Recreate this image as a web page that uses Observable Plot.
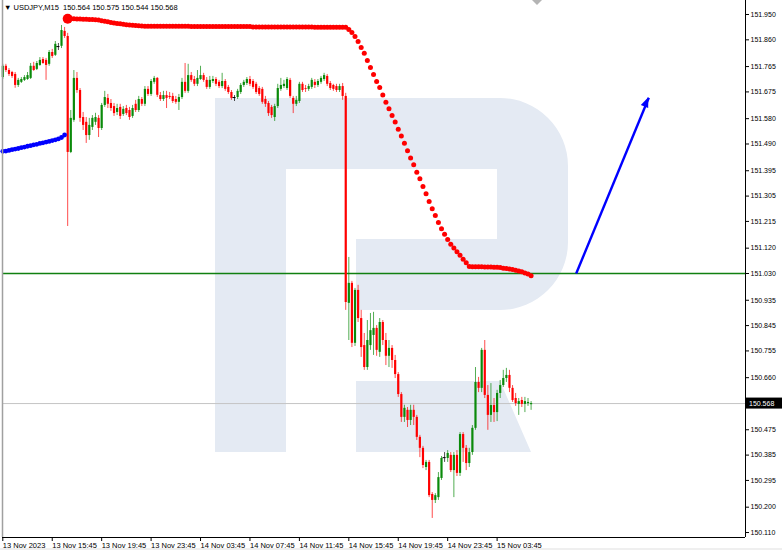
<!DOCTYPE html>
<html>
<head>
<meta charset="utf-8">
<script src="https://cdn.jsdelivr.net/npm/d3@7"></script>
<script src="https://cdn.jsdelivr.net/npm/@observablehq/plot@0.6"></script>
<style>
html,body{margin:0;padding:0;background:#fff;}
#wrap{position:relative;width:782px;height:550px;overflow:hidden;font-family:"Liberation Sans",Arial,sans-serif;background:linear-gradient(#fff 548px,#efefef 548px);}
#bg{position:absolute;left:0;top:0;}
#chart{position:absolute;left:0;top:0;}
#title{position:absolute;left:4px;top:3px;font-size:7.5px;color:#000;white-space:pre;line-height:9px;}
</style>
</head>
<body>
<div id="wrap">
<svg id="bg" width="782" height="550">
  <path d="M215,98 H500 A68,68 0 0 1 568,166 V242 A68,68 0 0 1 500,310 H356 V239 H497 V169 H286 V452 H215 Z M356,381 H500 L531,452 H356 Z" fill="#e4eaf3"/>
  <polygon points="532,0 542,0 537,5" fill="#b4b4b4"/>
</svg>
<div id="chart"></div>
<div id="title"></div>
</div>
<script>
const symbol = "USDJPY,M15";
// bar 0 = 13 Nov 11:45, one bar per 15 minutes
const tickBars = [0, 16, 32, 48, 64, 80, 96, 112, 128, 144, 160];
const timeLabels = ["13 Nov 2023", "13 Nov 15:45", "13 Nov 19:45", "13 Nov 23:45", "14 Nov 03:45", "14 Nov 07:45", "14 Nov 11:45", "14 Nov 15:45", "14 Nov 19:45", "14 Nov 23:45", "15 Nov 03:45"];
const priceTicks = [151.950, 151.860, 151.765, 151.675, 151.580, 151.490, 151.395, 151.305, 151.215, 151.120, 151.030, 150.935, 150.845, 150.755, 150.660, 150.475, 150.385, 150.295, 150.200, 150.110];
const currentPrice = 150.568;
const levelPrice = 151.030;
const arrowFrom = {bar: 185.6, price: 151.030};
const arrowTo = {bar: 209.1, price: 151.654};

// candles: [open, high, low, close]
const candles = [
[151.726,151.773,151.719,151.766],[151.766,151.773,151.744,151.751],[151.751,151.758,151.730,151.737],[151.744,151.748,151.723,151.730],
[151.737,151.744,151.688,151.698],[151.698,151.723,151.691,151.716],[151.709,151.726,151.705,151.719],[151.716,151.733,151.712,151.726],
[151.719,151.744,151.716,151.733],[151.723,151.776,151.719,151.766],[151.766,151.780,151.748,151.751],[151.755,151.783,151.751,151.776],
[151.769,151.797,151.766,151.787],[151.790,151.797,151.773,151.776],[151.787,151.794,151.716,151.769],[151.773,151.822,151.766,151.815],
[151.815,151.826,151.794,151.801],[151.805,151.854,151.801,151.844],[151.836,151.847,151.822,151.836],[151.837,151.911,151.829,151.893],
[151.890,151.904,151.865,151.872],[151.872,151.883,151.197,151.460],[151.460,151.609,151.456,151.581],[151.574,151.751,151.567,151.723],
[151.723,151.744,151.670,151.680],[151.680,151.687,151.567,151.581],[151.584,151.602,151.538,151.556],[151.567,151.584,151.492,151.520],
[151.520,151.581,151.503,151.556],[151.549,151.591,151.538,151.581],[151.567,151.599,151.556,151.584],[151.581,151.591,151.513,151.545],
[151.545,151.634,151.538,151.627],[151.627,151.677,151.620,151.655],[151.652,151.666,151.616,151.631],[151.634,151.648,151.606,151.616],
[151.623,151.634,151.588,151.598],[151.602,151.631,151.591,151.616],[151.620,151.631,151.577,151.588],[151.595,151.623,151.588,151.613],
[151.616,151.627,151.591,151.598],[151.609,151.620,151.574,151.584],[151.588,151.627,151.581,151.616],[151.631,151.645,151.602,151.609],
[151.609,151.659,151.602,151.648],[151.648,151.655,151.623,151.631],[151.631,151.694,151.623,151.684],[151.684,151.694,151.659,151.666],
[151.666,151.719,151.659,151.712],[151.709,151.730,151.702,151.723],[151.723,151.726,151.655,151.663],[151.662,151.673,151.641,151.648],
[151.648,151.677,151.641,151.662],[151.662,151.677,151.616,151.652],[151.659,151.673,151.648,151.655],[151.659,151.670,151.634,151.641],
[151.648,151.659,151.631,151.638],[151.638,151.666,151.609,151.655],[151.655,151.723,151.648,151.709],[151.709,151.776,151.670,151.677],
[151.677,151.773,151.670,151.733],[151.733,151.744,151.709,151.716],[151.719,151.730,151.694,151.702],[151.702,151.751,151.694,151.723],
[151.719,151.766,151.716,151.733],[151.733,151.741,151.709,151.716],[151.716,151.726,151.684,151.691],[151.691,151.730,151.684,151.716],
[151.712,151.730,151.705,151.719],[151.719,151.726,151.694,151.702],[151.709,151.716,151.687,151.694],[151.694,151.741,151.687,151.712],
[151.712,151.719,151.677,151.684],[151.691,151.698,151.666,151.673],[151.673,151.680,151.645,151.652],[151.655,151.662,151.641,151.655],
[151.655,151.684,151.648,151.677],[151.673,151.705,151.666,151.698],[151.698,151.716,151.691,151.709],[151.705,151.726,151.698,151.719],
[151.719,151.730,151.694,151.702],[151.712,151.719,151.684,151.691],[151.702,151.709,151.666,151.673],[151.687,151.694,151.659,151.666],
[151.684,151.691,151.631,151.638],[151.648,151.659,151.620,151.631],[151.634,151.641,151.588,151.598],[151.620,151.627,151.581,151.591],
[151.584,151.631,151.570,151.623],[151.623,151.702,151.616,151.687],[151.684,151.723,151.677,151.698],[151.694,151.716,151.687,151.702],
[151.687,151.726,151.680,151.719],[151.716,151.723,151.652,151.659],[151.652,151.659,151.598,151.631],[151.631,151.659,151.623,151.645],
[151.641,151.709,151.634,151.702],[151.702,151.709,151.673,151.680],[151.687,151.698,151.673,151.684],[151.684,151.702,151.677,151.694],
[151.691,151.723,151.684,151.716],[151.709,151.719,151.687,151.698],[151.698,151.719,151.691,151.712],[151.709,151.730,151.702,151.723],
[151.719,151.741,151.712,151.733],[151.730,151.737,151.694,151.702],[151.705,151.712,151.680,151.687],[151.698,151.702,151.677,151.684],
[151.694,151.702,151.673,151.680],[151.680,151.702,151.673,151.694],[151.694,151.705,151.645,151.659],[151.659,151.670,150.899,150.927],
[150.924,151.087,150.792,150.995],[150.995,151.002,150.767,150.782],[150.782,150.977,150.771,150.970],[150.970,150.988,150.856,150.870],
[150.870,150.899,150.732,150.767],[150.774,150.817,150.686,150.696],[150.696,150.863,150.686,150.792],[150.774,150.888,150.757,150.827],
[150.810,150.892,150.739,150.835],[150.835,150.845,150.736,150.757],[150.750,150.870,150.732,150.856],[150.856,150.863,150.774,150.792],
[150.792,150.817,150.703,150.736],[150.736,150.792,150.696,150.764],[150.764,150.774,150.693,150.721],[150.721,150.739,150.657,150.671],
[150.671,150.678,150.590,150.600],[150.600,150.607,150.501,150.519],[150.519,150.562,150.501,150.551],[150.544,150.554,150.483,150.508],
[150.508,150.562,150.490,150.544],[150.544,150.562,150.490,150.519],[150.519,150.526,150.437,150.448],[150.448,150.455,150.376,150.409],
[150.409,150.416,150.337,150.348],[150.341,150.366,150.330,150.359],[150.359,150.366,150.234,150.241],[150.245,150.252,150.160,150.224],
[150.224,150.248,150.213,150.241],[150.234,150.323,150.224,150.305],[150.302,150.380,150.295,150.373],[150.376,150.394,150.359,150.376],
[150.373,150.401,150.359,150.391],[150.384,150.394,150.323,150.330],[150.330,150.394,150.234,150.384],[150.384,150.401,150.309,150.320],
[150.320,150.465,150.309,150.458],[150.458,150.465,150.359,150.409],[150.409,150.419,150.330,150.355],[150.355,150.409,150.341,150.394],
[150.394,150.490,150.384,150.480],[150.480,150.696,150.473,150.643],[150.643,150.661,150.607,150.622],[150.622,150.764,150.607,150.757],
[150.757,150.792,150.586,150.597],[150.597,150.632,150.473,150.526],[150.526,150.639,150.501,150.561],[150.561,150.586,150.501,150.536],
[150.536,150.615,150.504,150.604],[150.604,150.650,150.586,150.632],[150.632,150.686,150.625,150.657],[150.657,150.693,150.643,150.668],
[150.668,150.686,150.607,150.622],[150.622,150.632,150.572,150.579],[150.586,150.604,150.558,150.568],[150.565,150.586,150.526,150.575],
[150.579,150.590,150.554,150.565],[150.565,150.590,150.536,150.575],[150.568,150.586,150.558,150.572],[150.564,150.575,150.544,150.568]
];

// Parabolic SAR below price (bars 0..20)
const sarBlueStart = 0;
const sarBlue = [151.464,151.465,151.467,151.470,151.472,151.474,151.477,151.479,151.482,151.484,151.487,151.489,151.492,151.494,151.497,151.499,151.502,151.505,151.508,151.513,151.522];
// Parabolic SAR above price (bars 21..171)
const sarRedStart = 21;
const sarRed = [
151.935,
151.935,151.935,151.934,151.934,151.933,151.933,151.932,151.932,151.931,151.930,
151.928,151.926,151.924,151.922,151.920,151.918,151.917,151.915,151.914,151.913,151.912,151.911,151.910,151.909,
151.908,151.908,151.908,151.908,151.908,151.908,151.908,151.908,151.908,151.908,151.908,151.908,151.908,151.908,151.908,
151.907,151.907,151.907,151.907,151.907,151.907,151.907,151.907,151.907,151.907,151.907,151.907,151.907,151.907,151.907,151.907,151.907,151.907,151.907,151.907,
151.906,151.906,151.906,151.906,151.906,151.906,151.906,151.906,151.906,151.906,151.906,151.906,151.906,151.906,151.906,151.906,151.906,151.906,151.906,151.906,
151.905,151.905,151.905,151.905,151.905,151.905,151.905,151.905,151.905,151.905,151.905,
151.897,151.886,151.872,151.854,151.833,151.812,151.787,151.762,151.737,151.712,
151.691,151.664,151.638,151.615,151.591,151.568,151.542,151.518,151.493,151.466,
151.440,151.416,151.390,151.367,151.339,151.313,151.286,151.260,151.236,151.211,
151.189,151.169,151.151,151.134,151.121,151.107,151.095,151.081,151.068,151.055,
151.054,151.054,151.054,151.054,151.053,151.053,151.053,151.052,151.052,151.051,
151.049,151.048,151.046,151.044,151.042,151.039,151.036,151.032,151.028,151.022
];

const UP = "#0a8a0a", DOWN = "#ff0000", DOJI = "#000000";
const rows = candles.map((c, i) => ({i, o: c[0], h: c[1], l: c[2], c: c[3],
  col: c[3] > c[0] ? UP : c[3] < c[0] ? DOWN : DOJI}));
const bodies = rows.filter(d => d.o !== d.c);
const dojis = rows.filter(d => d.o === d.c);
const blueRows = sarBlue.map((v, k) => ({i: sarBlueStart + k, v}));
const redRows = sarRed.map((v, k) => ({i: sarRedStart + k, v}));

const xDomain = [-0.1, 240.4];
const yDomain = [150.0923, 151.9997];

const chart = Plot.plot({
  width: 782,
  height: 550,
  marginLeft: 2,
  marginRight: 37,
  marginTop: 0,
  marginBottom: 13,
  style: {background: "transparent", fontFamily: "Liberation Sans, Arial, sans-serif", fontSize: "7.5px", color: "#000", overflow: "visible"},
  x: {domain: xDomain},
  y: {domain: yDomain},
  color: {type: "identity"},
  marks: [
    Plot.ruleY([currentPrice], {stroke: "#c4c4c4", strokeWidth: 1}),
    Plot.ruleY([levelPrice], {stroke: "#108010", strokeWidth: 1.5}),
    Plot.ruleX(rows, {x: "i", y1: "l", y2: "h", stroke: "col", strokeWidth: 1, strokeOpacity: 0.7}),
    Plot.ruleX(bodies, {x: "i", y1: "o", y2: "c", stroke: "col", strokeWidth: 2.2}),
    Plot.ruleY(dojis, {y: "o", x1: d => d.i - 0.5, x2: d => d.i + 0.5, stroke: "col", strokeWidth: 1}),
    Plot.dot(blueRows, {x: "i", y: "v", r: 2.4, fill: "#0000ff"}),
    Plot.dot(redRows, {x: "i", y: "v", r: 2.5, fill: "#ff0000"}),
    Plot.dot([redRows[0]], {x: "i", y: "v", r: 5, fill: "#ff0000"}),
    Plot.link([{a: arrowFrom, b: arrowTo}], {x1: d => d.a.bar, y1: d => d.a.price, x2: d => d.b.bar, y2: d => d.b.price, stroke: "#0000ff", strokeWidth: 2.4}),
    Plot.ruleY([yDomain[0]], {stroke: "#000", strokeWidth: 1}),
    Plot.ruleX([xDomain[1]], {stroke: "#000", strokeWidth: 1}),
    Plot.ruleX([xDomain[0]], {stroke: "#a0a0a0", strokeWidth: 1.5}),
    Plot.axisY({anchor: "right", ticks: priceTicks, tickFormat: d => d.toFixed(3), tickSize: 3, tickPadding: 2, fontSize: 7, label: null}),
    Plot.axisX({anchor: "bottom", ticks: tickBars, tickFormat: d => timeLabels[tickBars.indexOf(d)], tickSize: 4, tickPadding: 1, textAnchor: "start", dx: 0, fontSize: 7.5, label: null})
  ]
});
document.getElementById("chart").appendChild(chart);

const ys = chart.scale("y"), xs = chart.scale("x");
const svg = d3.select(chart);

// filled arrow head at the end of the blue arrow
const px1 = xs.apply(arrowFrom.bar), py1 = ys.apply(arrowFrom.price);
const px2 = xs.apply(arrowTo.bar), py2 = ys.apply(arrowTo.price);
const len = Math.hypot(px2 - px1, py2 - py1);
const ux = (px2 - px1) / len, uy = (py2 - py1) / len;
const hl = 10, hw = 4;
const bx = px2 - ux * hl, by = py2 - uy * hl;
svg.append("polygon")
  .attr("points", [[px2, py2], [bx - uy * hw, by + ux * hw], [bx + uy * hw, by - ux * hw]].map(p => p.join(",")).join(" "))
  .attr("fill", "#0000ff");

// current price box on the price axis
const yy = ys.apply(currentPrice);
const xr = xs.range[1];
svg.append("rect").attr("x", xr + 1).attr("y", yy - 5.5).attr("width", 37).attr("height", 11).attr("fill", "#000");
svg.append("text").attr("x", xr + 4).attr("y", yy).attr("dy", "0.35em").attr("text-anchor", "start")
  .attr("fill", "#fff").attr("font-size", 7).text(currentPrice.toFixed(3));

// header text from the last candle
const last = candles[candles.length - 1];
document.getElementById("title").textContent = "\u25BC " + symbol + "  " + last.map(v => v.toFixed(3)).join(" ");
</script>
</body>
</html>
